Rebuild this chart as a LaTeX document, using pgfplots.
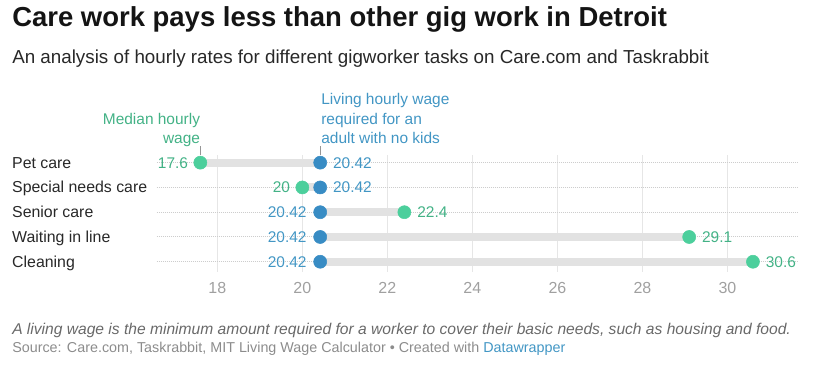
\documentclass[border=0pt]{standalone}
\usepackage{pgfplots}
\pgfplotsset{compat=1.18}
\usepackage{fontspec}
\setmainfont{Liberation Sans}
\definecolor{titlec}{RGB}{20,20,20}
\definecolor{subc}{RGB}{40,40,40}
\definecolor{catc}{RGB}{40,40,40}
\definecolor{dotg}{RGB}{76,207,156}
\definecolor{txtg}{RGB}{67,178,134}
\definecolor{dotb}{RGB}{56,140,196}
\definecolor{txtb}{RGB}{66,150,196}
\definecolor{barc}{RGB}{226,226,226}
\definecolor{gridc}{RGB}{230,230,230}
\definecolor{dotc}{RGB}{205,205,205}
\definecolor{tickc}{RGB}{160,160,160}
\definecolor{notec}{RGB}{105,105,105}
\definecolor{srcc}{RGB}{140,140,140}
\definecolor{annc}{RGB}{150,150,150}
\pgfplotstableread{
y med live
0 17.6 20.42
1 20.0 20.42
2 22.4 20.42
3 29.1 20.42
4 30.6 20.42
}\wages
\begin{document}
\begin{tikzpicture}[x=0.75pt,y=0.75pt]
\path[use as bounding box] (0,0) rectangle (816,377);
\node[anchor=base west, inner sep=0, font=\fontsize{20.6}{24}\selectfont\bfseries, text=titlec] at (12,350.3) {Care work pays less than other gig work in Detroit};
\node[anchor=base west, inner sep=0, font=\fontsize{14.1}{17}\selectfont, text=subc] at (12,313.7) {An analysis of hourly rates for different gigworker tasks on Care.com and Taskrabbit};
\node[anchor=base west, inner sep=0, font=\fontsize{11.7}{14}\selectfont\itshape, text=notec] at (12,42) {A living wage is the minimum amount required for a worker to cover their basic needs, such as housing and food.};
\node[anchor=base west, inner sep=0, font=\fontsize{10.75}{13}\selectfont, text=srcc] at (12,24.6) {Source: Care.com, Taskrabbit, MIT Living Wage Calculator • Created with \textcolor{txtb}{Datawrapper}};
\begin{axis}[
  at={(117.525pt,166.5pt)}, anchor=north west,
  scale only axis, width=480.98pt, height=87.5pt,
  xmin=16.574, xmax=31.66, ymin=-0.31, ymax=4.40,
  y dir=reverse, clip=false,
  axis line style={draw=none},
  major tick style={draw=none},
  xtick={18,20,...,30}, ytick=\empty,
  xmajorgrids, major x grid style={gridc, line width=0.75pt},
  xticklabel style={anchor=center, yshift=-12.2pt, font=\fontsize{12}{14}\selectfont, text=tickc},
  /pgf/number format/assume math mode=true,
]
% dotted row lines
\foreach \r in {0,...,4}{
  \edef\tmp{\noexpand\addplot[dotc, line width=0.75pt, dash pattern=on 0.75pt off 0.75pt, forget plot] coordinates {(16.574,\r) (31.66,\r)};}
  \tmp
}
% range bars
\addplot[barc, line width=6pt, forget plot] coordinates {(17.6,0) (20.42,0)};
\addplot[barc, line width=6pt, forget plot] coordinates {(20.0,1) (20.42,1)};
\addplot[barc, line width=6pt, forget plot] coordinates {(20.42,2) (22.4,2)};
\addplot[barc, line width=6pt, forget plot] coordinates {(20.42,3) (29.1,3)};
\addplot[barc, line width=6pt, forget plot] coordinates {(20.42,4) (30.6,4)};
% dots
\addplot[only marks, mark=*, mark size=4.9pt, color=dotg, draw=dotg, fill=dotg, mark options={draw=dotg, fill=dotg}] table[x=med, y=y] {\wages};
\addplot[only marks, mark=*, mark size=4.9pt, color=dotb, draw=dotb, fill=dotb, mark options={draw=dotb, fill=dotb}] table[x=live, y=y] {\wages};
% category labels
\foreach \r/\lab in {0/Pet care,1/Special needs care,2/Senior care,3/Waiting in line,4/Cleaning}{
  \edef\tmp{\noexpand\node[anchor=base west, inner sep=0, yshift=-4.1pt, font=\noexpand\fontsize{11.9}{14}\noexpand\selectfont, text=catc] at (axis cs:13.169,\r) {\lab};}
  \tmp
}
% value labels
\tikzset{vl/.style={inner sep=0, yshift=-4.1pt, font=\fontsize{11.6}{14}\selectfont}}
\node[vl, anchor=base east, text=txtg, xshift=-9pt] at (axis cs:17.6,0) {17.6};
\node[vl, anchor=base east, text=txtg, xshift=-9pt] at (axis cs:20.0,1) {20};
\node[vl, anchor=base west, text=txtg, xshift=9.5pt] at (axis cs:22.4,2) {22.4};
\node[vl, anchor=base west, text=txtg, xshift=9.5pt] at (axis cs:29.1,3) {29.1};
\node[vl, anchor=base west, text=txtg, xshift=9.5pt] at (axis cs:30.6,4) {30.6};
\node[vl, anchor=base west, text=txtb, xshift=9.5pt] at (axis cs:20.42,0) {20.42};
\node[vl, anchor=base west, text=txtb, xshift=9.5pt] at (axis cs:20.42,1) {20.42};
\node[vl, anchor=base east, text=txtb, xshift=-10pt] at (axis cs:20.42,2) {20.42};
\node[vl, anchor=base east, text=txtb, xshift=-10pt] at (axis cs:20.42,3) {20.42};
\node[vl, anchor=base east, text=txtb, xshift=-10pt] at (axis cs:20.42,4) {20.42};
% annotations
\draw[annc, line width=0.75pt] (axis cs:17.6,-0.67) -- (axis cs:17.6,-0.31);
\draw[annc, line width=0.75pt] (axis cs:20.42,-0.67) -- (axis cs:20.42,-0.31);
\tikzset{an/.style={inner sep=0, font=\fontsize{11.6}{14}\selectfont}}
\node[an, anchor=base east, text=txtg] at (axis cs:17.6,-1.5515) {Median hourly};
\node[an, anchor=base east, text=txtg] at (axis cs:17.6,-0.784) {wage};
\node[an, anchor=base west, text=txtb] at (axis cs:20.44,-2.331) {Living hourly wage};
\node[an, anchor=base west, text=txtb] at (axis cs:20.44,-1.5515) {required for an};
\node[an, anchor=base west, text=txtb] at (axis cs:20.44,-0.784) {adult with no kids};
\end{axis}
\end{tikzpicture}
\end{document}
